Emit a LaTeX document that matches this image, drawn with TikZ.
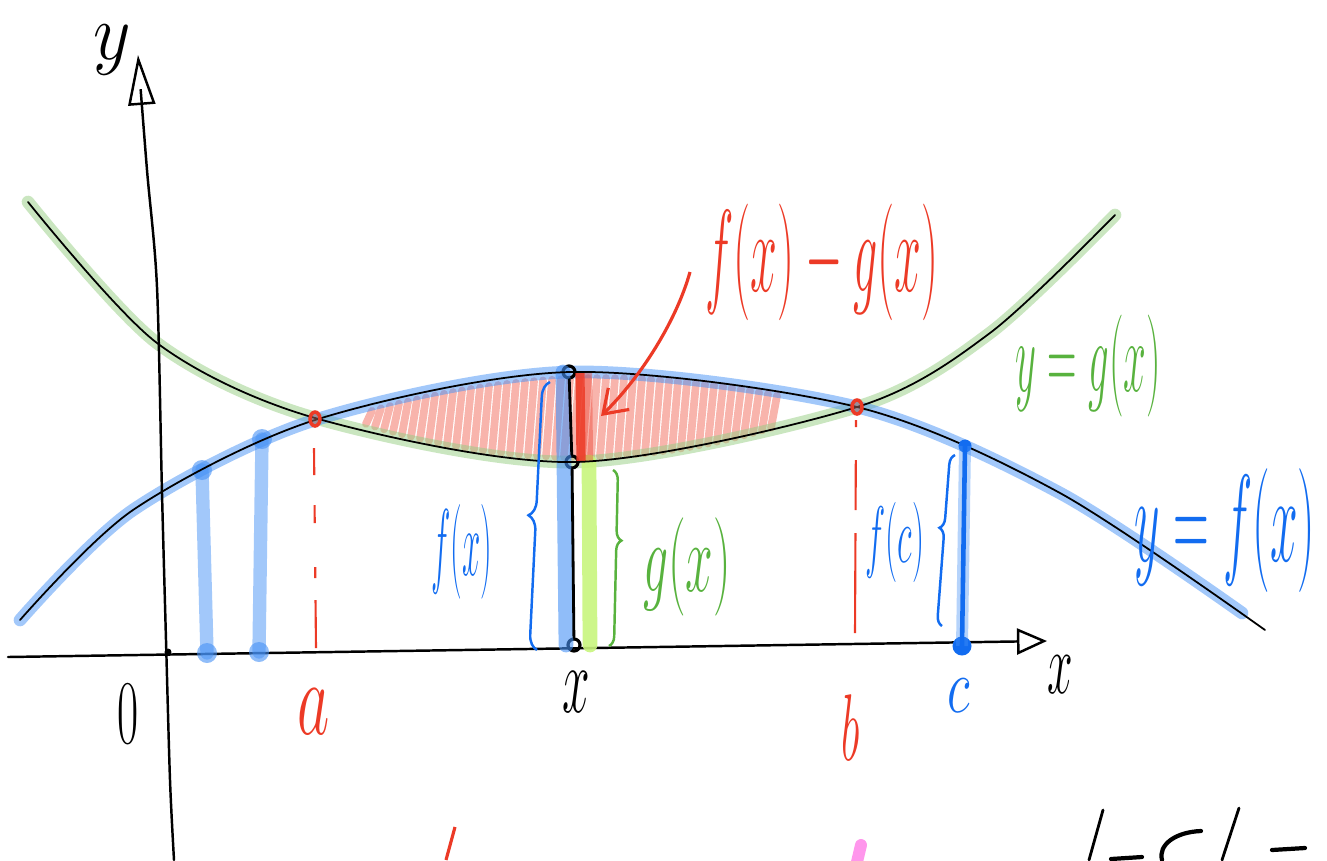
\documentclass[tikz,border=0pt]{standalone}
\usepackage{amsmath}
\usepackage{graphicx}
\usetikzlibrary{arrows.meta}
\usetikzlibrary{decorations.pathreplacing}
\usetikzlibrary{calc}

\definecolor{penred}{RGB}{236,58,38}
\definecolor{penblue}{RGB}{18,108,240}
\definecolor{pengreen}{RGB}{88,178,62}
\definecolor{glowblue}{RGB}{70,145,245}
\definecolor{glowgreen}{RGB}{150,205,130}
\definecolor{limegreen}{RGB}{200,245,125}
\definecolor{penpink}{RGB}{255,150,236}

\begin{document}
\begin{tikzpicture}[x=0.01cm, y=-0.01cm,
    hand/.style={inner sep=0pt, font=\fontsize{20}{20}\selectfont},
    pen/.style={line width=0.5pt, line cap=round, line join=round},
    axisline/.style={line width=0.7pt, line cap=round},
    glowline/.style={line width=3.6pt, line cap=round, opacity=0.5},
    pillar/.style={glowblue, line width=3.8pt, line cap=round, opacity=0.5},
    hatch/.style={penred, line width=2.2pt, opacity=0.38, line cap=round},
    curly/.style={decorate, line width=0.7pt},
    ring/.style={circle, draw=black, line width=0.9pt, inner sep=0pt, minimum size=0.12cm},
    gdot/.style={circle, fill=glowblue, opacity=0.6, inner sep=0pt, minimum size=0.2cm},
    bdot/.style={circle, fill=penblue, inner sep=0pt, minimum size=0.13cm}]

  \useasboundingbox (0,0) rectangle (1327,860);

  % Hatching between the two curves
  \foreach \i in {366,375,...,776} {
    \draw[hatch] (\i, {457-7.6*((\i-575)/100)*((\i-575)/100)}) -- ({\i+6}, {378+6*((\i-600)/100)*((\i-600)/100)});
  }

  % Glow under the curves
  \draw[glowline, glowgreen] plot[smooth] coordinates {(28,202) (157,343) (315,418) (575,462) (857,407) (990,333) (1115,215)};
  \draw[glowline, glowblue] plot[smooth] coordinates {(20,620) (133,510) (315,420) (570,372) (857,407) (1060,493) (1242,613)};

  % Axes
  \coordinate (xo) at (8,657);
  \coordinate (xe) at (1047,641);
  \draw[axisline, -{Triangle[open, length=0.3cm, width=0.26cm]}] (xo) -- (xe);
  \draw[axisline, -{Triangle[open, length=0.5cm, width=0.27cm]}] plot[smooth] coordinates {(174,860) (170,780) (166,640) (162,493) (157,287) (147,170) (138,55)};
  \node[circle, fill=black, inner sep=0pt, minimum size=0.07cm] (O) at (168,652) {};

  % Points on the curve left of a
  \node[gdot] (p1f) at (202,470) {};
  \node[gdot] (p10) at (207,653) {};
  \node[gdot] (p2f) at (262,439) {};
  \node[gdot] (p20) at (259,652) {};
  \draw[pillar] (p1f.center) -- (p10.center);
  \draw[pillar] (p2f.center) -- (p20.center);

  % The strip at x
  \node[ring] (Xf) at (569,372) {};
  \node[ring] (Xg) at (572,462) {};
  \node[ring] (X0) at (574,645) {};
  \draw[glowblue, line width=4.2pt, line cap=round, opacity=0.6] ([xshift=-0.06cm]Xf.center) -- ([xshift=-0.08cm]X0.center);
  \draw[limegreen, line width=4.2pt, line cap=round, opacity=0.9] ([xshift=0.17cm]Xg.center) -- ([xshift=0.16cm]X0.center);
  \draw[penred, line width=4.6pt, opacity=0.4] ([xshift=0.15cm]Xf.center) -- ([xshift=0.13cm]Xg.center);
  \draw[penred, line width=2.6pt, opacity=0.85] ([xshift=0.11cm]Xf.center) -- ([xshift=0.09cm]Xg.center);

  % Curves
  \draw[pen] plot[smooth] coordinates {(28,202) (157,343) (315,418) (575,462) (857,407) (990,333) (1115,215)};
  \draw[pen] plot[smooth] coordinates {(20,620) (133,510) (315,420) (570,372) (857,407) (1060,493) (1265,630)};
  \draw[pen, line width=0.8pt] (Xf) -- (Xg) -- (X0);

  % Intersections a and b
  \coordinate (A) at (315,419);
  \coordinate (B) at (857,407);
  \draw[penred, line width=1pt, fill=gray!60!penred, fill opacity=0.5] (A) ellipse (5 and 7);
  \draw[penred, line width=1pt, fill=gray!60!penred, fill opacity=0.5] (B) ellipse (5 and 7);
  \coordinate (a1) at (314,448);
  \coordinate (a0) at (316,648);
  \coordinate (b1) at (856,420);
  \coordinate (b0) at (855,634);
  \draw[penred, line width=0.6pt, dash pattern=on 0.27cm off 0.3cm on 0.18cm off 0.44cm on 0.11cm off 0.22cm on 0.48cm] (a1) -- (a0);
  \draw[penred, line width=0.6pt, dash pattern=on 0.07cm off 0.33cm on 0.5cm off 0.23cm on 1cm] (b1) -- (b0);

  % The point c
  \node[bdot] (cf) at (965,446) {};
  \node[bdot, minimum size=0.19cm] (c0) at (962,646) {};
  \draw[glowblue, line width=3.4pt, opacity=0.4] (cf.center) -- (c0.center);
  \draw[penblue, line width=1.3pt] (cf.center) -- (c0.center);

  % Braces
  \coordinate (fxlo) at (537,650);
  \coordinate (fxhi) at (550,382);
  \coordinate (gxhi) at (613,470);
  \coordinate (gxlo) at (609,646);
  \coordinate (fclo) at (942,626);
  \coordinate (fchi) at (955,455);
  \draw[curly, penblue, decoration={brace, amplitude=0.15cm}] (fxlo) -- (fxhi);
  \draw[curly, pengreen, decoration={brace, amplitude=0.1cm, aspect=0.4}] (gxhi) -- (gxlo);
  \draw[curly, penblue, decoration={brace, amplitude=0.1cm, aspect=0.57}] (fclo) -- (fchi);

  % Labels
  \node[hand] (ylab) at (112,50) {\scalebox{1}[1.1]{$y$}};
  \node[hand] (zero) at (128,714) {\scalebox{0.63}[1.25]{$0$}};
  \node[hand, penred] (alab) at (314,712) {\scalebox{0.86}[1.45]{$a$}};
  \node[hand] (xlab) at (576,692) {\scalebox{0.68}[1.3]{$x$}};
  \node[hand, penred] (blab) at (851,728) {\scalebox{0.6}[1.3]{$b$}};
  \node[hand, penblue] (clab) at (959,696) {\scalebox{0.73}[1.07]{$c$}};
  \node[hand] (xaxlab) at (1060,675) {\scalebox{0.63}[1.2]{$x$}};
  \node[hand, penblue] (fxlab) at (462,552) {\scalebox{0.45}[1.3]{$f(x)$}};
  \node[hand, pengreen] (gxlab) at (687,567) {\scalebox{0.68}[1.35]{$g(x)$}};
  \node[hand, penblue] (fclab) at (895,542) {\scalebox{0.47}[1.1]{$f(c)$}};
  \node[hand, penred] (fglab) at (822,262) {\scalebox{0.66}[1.6]{$f(x)-g(x)$}};
  \node[hand, pengreen] (gcurve) at (1088,366) {\scalebox{0.56}[1.4]{$y=g(x)$}};
  \node[hand, penblue] (fcurve) at (1225,530) {\scalebox{0.68}[1.7]{$y=f(x)$}};

  % Arrow to the strip
  \coordinate (fgtail) at (690,272);
  \coordinate (fgtip) at (601,416);
  \draw[penred, line width=0.9pt, -{Straight Barb[length=0.22cm, width=0.3cm]}] (fgtail) .. controls (676,322) and (640,378) .. (fgtip);

  % Strokes cut off at the bottom edge
  \draw[penred, line width=0.9pt] (455,827) -- (446,860);
  \draw[penpink, line width=3.4pt, line cap=round] (861,845) -- (857,862);
  \draw[pen, line width=0.8pt] (1103,810) -- (1089,860);
  \draw[pen, line width=0.8pt] (1239,808) -- (1222,860);
  \draw[pen, line width=1.2pt] (1201,831) .. controls (1175,832) and (1158,845) .. (1162,860);
  \draw[pen, line width=1.2pt] (1111,859) -- (1142,857);
  \draw[pen, line width=1.2pt] (1272,850) -- (1305,848);
\end{tikzpicture}
\end{document}
